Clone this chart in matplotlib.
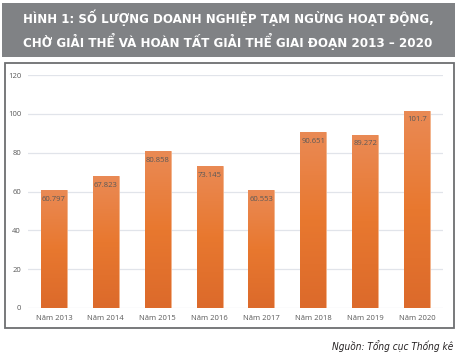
import matplotlib.pyplot as plt
import numpy as np
from matplotlib.patches import Rectangle
from matplotlib.colors import LinearSegmentedColormap

plt.rcParams["font.family"] = ["Open Sans", "DejaVu Sans"]

years = ["Năm 2013", "Năm 2014", "Năm 2015", "Năm 2016",
         "Năm 2017", "Năm 2018", "Năm 2019", "Năm 2020"]
values = [60.797, 67.823, 80.858, 73.145, 60.553, 90.651, 89.272, 101.7]
labels = ["60.797", "67.823", "80.858", "73.145", "60.553", "90.651", "89.272", "101.7"]
yticks = [0, 20, 40, 60, 80, 100, 120]

W, H = 467, 358
fig = plt.figure(figsize=(W / 100, H / 100), dpi=100)
fig.patch.set_facecolor("white")


def fit_text(t, target_px):
    # scale font so the text spans the width seen in the reference
    r = fig.canvas.get_renderer()
    w = t.get_window_extent(renderer=r).width
    t.set_fontsize(t.get_fontsize() * target_px / w)


# title banner
fig.patches.append(Rectangle((2 / W, 1 - 57 / H), 453 / W, 54 / H,
                             transform=fig.transFigure, facecolor="#808285",
                             edgecolor="none", zorder=0))
t1 = fig.text(228 / W, 1 - 18 / H, "HÌNH 1: SỐ LƯỢNG DOANH NGHIỆP TẠM NGỪNG HOẠT ĐỘNG,",
              ha="center", va="center", color="white", fontsize=9.5, fontweight="bold",
              family="DejaVu Sans", fontstretch="condensed")
t2 = fig.text(228 / W, 1 - 41 / H, "CHỜ GIẢI THỂ VÀ HOÀN TẤT GIẢI THỂ GIAI ĐOẠN 2013 – 2020",
              ha="center", va="center", color="white", fontsize=9.5, fontweight="bold",
              family="DejaVu Sans", fontstretch="condensed")
fit_text(t1, 412)
fit_text(t2, 412)

# chart frame
fig.patches.append(Rectangle((5 / W, 1 - 328 / H), 449 / W, 265 / H,
                             transform=fig.transFigure, facecolor="none",
                             edgecolor="#6d6e71", linewidth=1.3, zorder=0))

ax = fig.add_axes([28 / W, 1 - 308 / H, 415 / W, 233 / H])
x = np.arange(len(years))
bars = ax.bar(x, values, width=0.5, color="#E8772E", edgecolor="#F2B48C",
              linewidth=0.6, zorder=2)

# vertical gradient inside each bar
grad = np.linspace(0, 1, 256).reshape(-1, 1)
cmap = LinearSegmentedColormap.from_list("og", ["#DC6A2B", "#E8782F", "#EA8A55"])
for b in bars:
    x0, w, h = b.get_x(), b.get_width(), b.get_height()
    im = ax.imshow(grad, extent=(x0, x0 + w, 0, h), origin="lower", cmap=cmap,
                   aspect="auto", zorder=2.5)
    im.set_clip_path(b)

for xi, v, lab in zip(x, values, labels):
    ax.text(xi, v - 3, lab, ha="center", va="top", fontsize=5.5,
            color="#595959", zorder=3)

ax.set_xlim(-0.5, len(years) - 0.5)
ax.set_ylim(0, 120)
ax.set_yticks(yticks)
ax.set_xticks(x)
ax.set_xticklabels(years)
ax.tick_params(axis="both", length=0, labelsize=5.5, colors="#595959")
ax.tick_params(axis="y", pad=5)
ax.tick_params(axis="x", pad=5)
ax.grid(axis="y", color="#E1E4EA", linewidth=0.9, zorder=0)
for s in ax.spines.values():
    s.set_visible(False)

src = fig.text(332 / W, 1 - 346 / H, "Nguồn: Tổng cục Thống kê", ha="left", va="center",
               fontsize=8, style="italic", color="#231f20",
               family="DejaVu Sans", fontstretch="condensed")
fit_text(src, 121)

fig.savefig("out.png", dpi=100)
